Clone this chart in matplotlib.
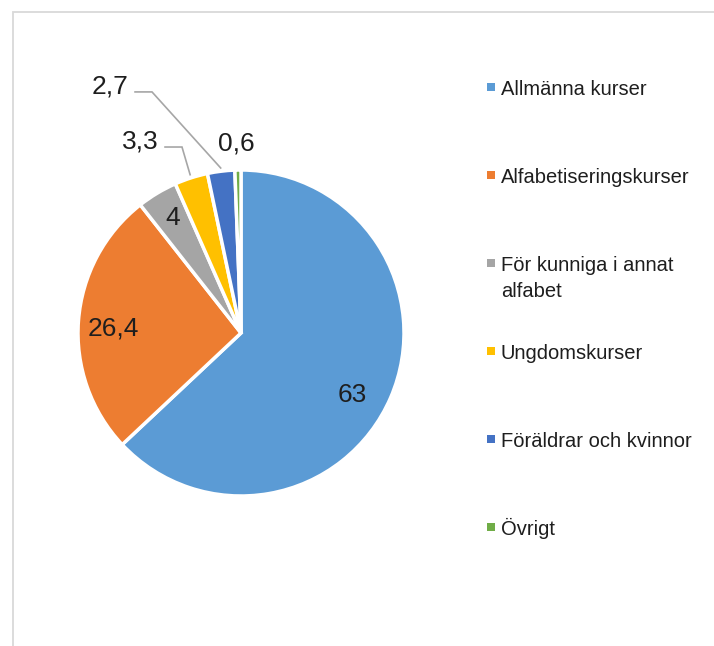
import matplotlib
matplotlib.use('Agg')
import matplotlib.pyplot as plt
import numpy as np
from matplotlib.patches import Rectangle

# ---- data ----
categories = ["Allmänna kurser", "Alfabetiseringskurser", "För kunniga i annat alfabet",
              "Ungdomskurser", "Föräldrar och kvinnor", "Övrigt"]
values = [63, 26.4, 4, 3.3, 2.7, 0.6]
value_labels = ["63", "26,4", "4", "3,3", "2,7", "0,6"]
legend_labels = ["Allmänna kurser", "Alfabetiseringskurser", "För kunniga i annat\nalfabet",
                 "Ungdomskurser", "Föräldrar och kvinnor", "Övrigt"]
colors = ["#5B9BD5", "#ED7D31", "#A5A5A5", "#FFC000", "#4472C4", "#70AD47"]

# ---- layout (data units of the pie, radius = 1) ----
label_pos = [(0.683, -0.366), (-0.785, 0.043), (-0.42, 0.72),
             (-0.620, 1.190), (-0.804, 1.528), (-0.031, 1.178)]
# leader lines: (start of horizontal part, elbow) or None
leaders = [None, None, None,
           ((-0.466, 1.141), (-0.362, 1.141)),
           ((-0.650, 1.479), (-0.546, 1.479)),
           None]

plt.rcParams['font.family'] = ['Liberation Sans', 'DejaVu Sans']
TXT = '#1e1e1e'
FS = 14.5       # legend
FS_LAB = 19     # data labels

W, H = 714, 646
fig = plt.figure(figsize=(W / 100, H / 100), dpi=100)

# chart border (light gray, extends beyond the image right/bottom)
fig.patches.append(Rectangle((12.5 / W, -0.1), 1.2, 1 - 11.5 / H + 0.1,
                             transform=fig.transFigure, fill=False,
                             edgecolor='#d9d9d9', lw=1.3))

cx, cy, R = 241, 333, 163
ax = fig.add_axes([(cx - R) / W, 1 - (cy + R) / H, 2 * R / W, 2 * R / H])
wedges, _ = ax.pie(values, colors=colors, startangle=90, counterclock=False, radius=1,
                   wedgeprops=dict(edgecolor='white', linewidth=2.5))
ax.set_xlim(-1, 1)
ax.set_ylim(-1, 1)
ax.set_aspect('equal')
ax.axis('off')

cap_half = 9.4 / R  # half of cap height in data units

for i, (w, lab) in enumerate(zip(wedges, value_labels)):
    x, y = label_pos[i]
    ax.text(x, y - cap_half, lab, ha='center', va='baseline', fontsize=FS_LAB, color=TXT)
    if leaders[i] is not None:
        mid = np.deg2rad((w.theta1 + w.theta2) / 2)
        ax_, ay_ = 1.02 * np.cos(mid), 1.02 * np.sin(mid)
        (sx, sy), (ex, ey) = leaders[i]
        ax.plot([sx, ex, ax_], [sy, ey, ay_], color='#a6a6a6', lw=1.2, clip_on=False,
                solid_joinstyle='miter')

# ---- legend (manual) ----
row0, step, line_h = 95, 88, 26
for i, (lab, col) in enumerate(zip(legend_labels, colors)):
    base = row0 + step * i
    fig.patches.append(Rectangle((487 / W, 1 - (base - 4) / H), 8 / W, 8 / H,
                                 transform=fig.transFigure, facecolor=col, edgecolor='none'))
    for k, line in enumerate(lab.split('\n')):
        fig.text(501 / W, 1 - (base + k * line_h) / H, line, ha='left', va='baseline',
                 fontsize=FS, color=TXT)

fig.savefig('out.png', dpi=100, facecolor='white')
